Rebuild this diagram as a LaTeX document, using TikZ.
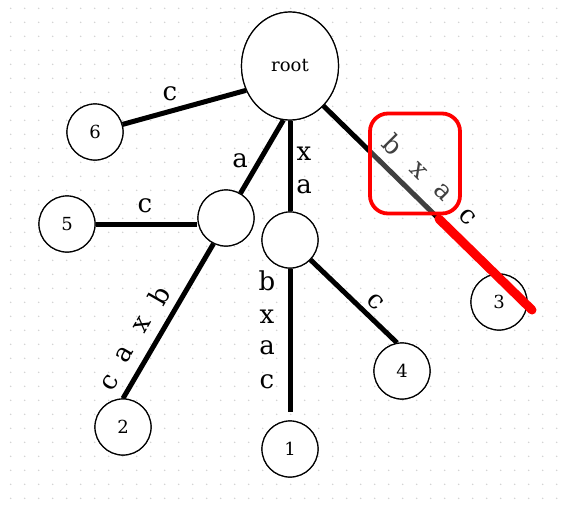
\documentclass[tikz,border=0pt]{standalone}
\usepackage{fontspec}
\setmainfont{DejaVu Serif}
\usetikzlibrary{shapes.geometric}
\definecolor{dotc}{HTML}{D0D0D0}
\definecolor{hired}{HTML}{FF0000}
\begin{document}
\begin{tikzpicture}[x=1pt,y=-1pt,
  leaf/.style={circle,draw,line width=1.2pt,fill=white,minimum size=56pt,inner sep=0pt,font=\fontsize{18}{18}\selectfont},
  rootnode/.style={ellipse,draw,line width=1.2pt,fill=white,minimum width=97pt,minimum height=108pt,inner sep=0pt,font=\fontsize{18}{18}\selectfont},
  edgeline/.style={line width=5pt},
  lab/.style={inner sep=0pt,font=\fontsize{26}{26}\selectfont},
  hibox/.style={draw=hired,line width=3.8pt,rounded corners=18pt,fill=white,fill opacity=0.25,draw opacity=1},
  hiline/.style={draw=hired,line width=9pt,line cap=round}]
\useasboundingbox (0,0) rectangle (570,504);
\fill[white] (0,0) rectangle (570,504);
\foreach \i in {0,...,39}{\foreach \j in {0,...,35}{\fill[dotc] (10.7+14*\i,8.3+14*\j) circle (0.8);}}
% nodes
\path (290,66) node[rootnode] (root) {root}
      (95,132) node[leaf] (n6) {6}
      (67,224) node[leaf] (n5) {5}
      (226,218) node[leaf] (A) {}
      (290,240) node[leaf] (B) {}
      (499,302) node[leaf] (n3) {3}
      (402,371) node[leaf] (n4) {4}
      (123,427) node[leaf] (n2) {2}
      (290,449) node[leaf] (n1) {1};
\coordinate (rc) at (439,219);
\coordinate (rend) at (532,310);
% edges
\draw[edgeline] (root.209) -- (n6);
\draw[edgeline] (root.263) -- (A);
\draw[edgeline] (root) -- (B);
\draw[edgeline] (root.310) -- (rc);
\draw[edgeline] (n5) -- (n5 -| A.west);
\draw[edgeline] (A.244) -- (n2.north);
\draw[edgeline,shorten >=8pt] (B) -- (n1);
\draw[edgeline] (B.316) -- (n4.100);
% labels
\node[lab] (l6) at (170,94) {c};
\node[lab] (l5) at (145,206) {c};
\node[lab] (lA) at (240,161) {a};
\node[lab] (lB1) at (304,154) {x};
\node[lab] (lB2) at (304,187) {a};
\node[lab] (l11) at (267,281) {b};
\node[lab] (l12) at (267,317) {x};
\node[lab] (l13) at (267,348) {a};
\node[lab] (l14) at (267,382) {c};
\node[lab,rotate=60] (l21) at (159,295) {b};
\node[lab,rotate=60] (l22) at (142,325) {x};
\node[lab,rotate=60] (l23) at (125,354) {a};
\node[lab,rotate=60] (l24) at (110,383) {c};
\node[lab,rotate=-44] (l41) at (375,302) {c};
\node[lab,rotate=-45] (l31) at (393,145) {b};
\node[lab,rotate=-45] (l32) at (418,171) {x};
\node[lab,rotate=-45] (l33) at (443,192) {a};
\node[lab,rotate=-45] (l34) at (467,217) {c};
% redraw nodes on top of edges
\path (290,66) node[rootnode] {root}
      (95,132) node[leaf] {6}
      (67,224) node[leaf] {5}
      (226,218) node[leaf] {}
      (290,240) node[leaf] {}
      (499,302) node[leaf] {3}
      (402,371) node[leaf] {4}
      (123,427) node[leaf] {2}
      (290,449) node[leaf] {1};
% highlight
\node[hibox,minimum width=90pt,minimum height=100pt] (hb) at (415,163.5) {};
\draw[hiline] (rc) -- (rend);
\end{tikzpicture}
\end{document}
